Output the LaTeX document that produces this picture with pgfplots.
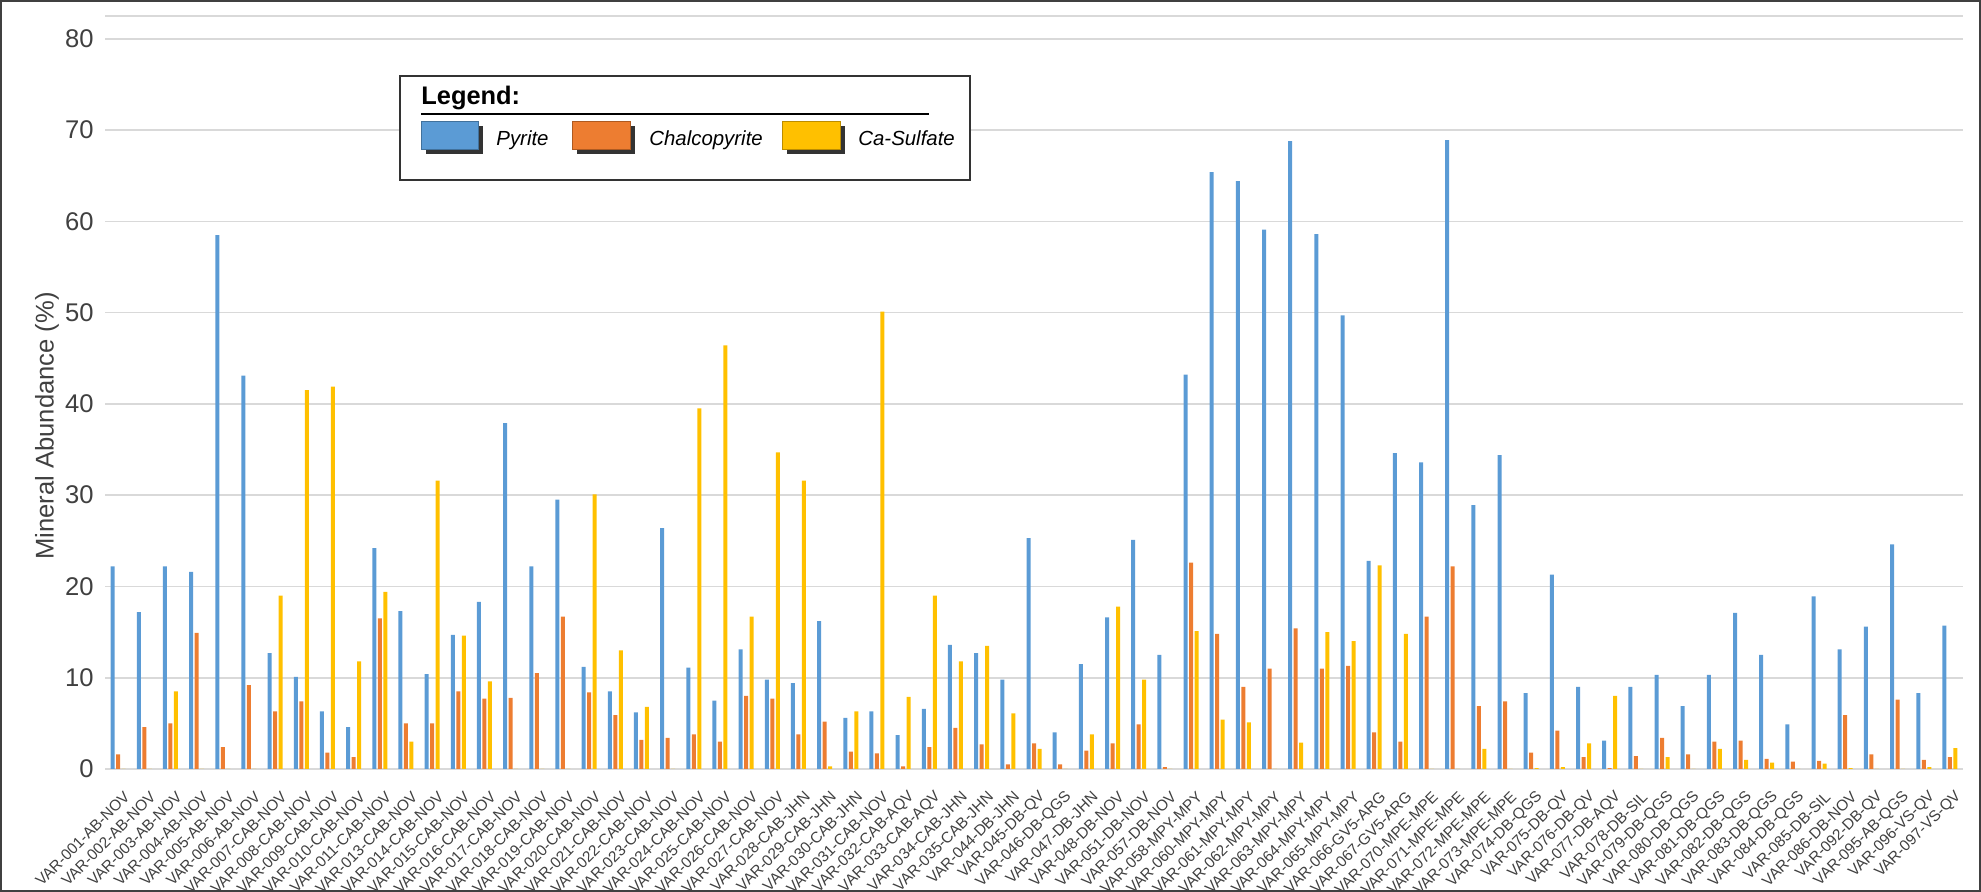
\documentclass[border=0pt]{standalone}
\usepackage{fontspec}
\setmainfont{Liberation Sans}
\usepackage{pgfplots}
\usepackage{pgfplotstable}
\pgfplotsset{compat=1.18}
\definecolor{pyb}{HTML}{5B9BD5}
\definecolor{cpo}{HTML}{ED7D31}
\definecolor{csy}{HTML}{FFC000}
\definecolor{pybd}{HTML}{41719C}
\definecolor{cpod}{HTML}{AE5A21}
\definecolor{csyd}{HTML}{BC8C00}
\definecolor{gridgray}{HTML}{D9D9D9}
\definecolor{txtgray}{HTML}{404040}

\pgfplotstableread{
idx name py cp cs
1 VAR-001-AB-NOV 22.2 1.6 0
2 VAR-002-AB-NOV 17.2 4.6 0
3 VAR-003-AB-NOV 22.2 5.0 8.5
4 VAR-004-AB-NOV 21.6 14.9 0
5 VAR-005-AB-NOV 58.5 2.4 0
6 VAR-006-AB-NOV 43.1 9.2 0
7 VAR-007-CAB-NOV 12.7 6.3 19.0
8 VAR-008-CAB-NOV 10.1 7.4 41.5
9 VAR-009-CAB-NOV 6.3 1.8 41.9
10 VAR-010-CAB-NOV 4.6 1.3 11.8
11 VAR-011-CAB-NOV 24.2 16.5 19.4
12 VAR-013-CAB-NOV 17.3 5.0 3.0
13 VAR-014-CAB-NOV 10.4 5.0 31.6
14 VAR-015-CAB-NOV 14.7 8.5 14.6
15 VAR-016-CAB-NOV 18.3 7.7 9.6
16 VAR-017-CAB-NOV 37.9 7.8 0
17 VAR-018-CAB-NOV 22.2 10.5 0
18 VAR-019-CAB-NOV 29.5 16.7 0
19 VAR-020-CAB-NOV 11.2 8.4 30.1
20 VAR-021-CAB-NOV 8.5 5.9 13.0
21 VAR-022-CAB-NOV 6.2 3.2 6.8
22 VAR-023-CAB-NOV 26.4 3.4 0
23 VAR-024-CAB-NOV 11.1 3.8 39.5
24 VAR-025-CAB-NOV 7.5 3.0 46.4
25 VAR-026-CAB-NOV 13.1 8.0 16.7
26 VAR-027-CAB-NOV 9.8 7.7 34.7
27 VAR-028-CAB-JHN 9.4 3.8 31.6
28 VAR-029-CAB-JHN 16.2 5.2 0.3
29 VAR-030-CAB-JHN 5.6 1.9 6.3
30 VAR-031-CAB-NOV 6.3 1.7 50.1
31 VAR-032-CAB-AQV 3.7 0.3 7.9
32 VAR-033-CAB-AQV 6.6 2.4 19.0
33 VAR-034-CAB-JHN 13.6 4.5 11.8
34 VAR-035-CAB-JHN 12.7 2.7 13.5
35 VAR-044-DB-JHN 9.8 0.5 6.1
36 VAR-045-DB-QV 25.3 2.8 2.2
37 VAR-046-DB-QGS 4.0 0.5 0
38 VAR-047-DB-JHN 11.5 2.0 3.8
39 VAR-048-DB-NOV 16.6 2.8 17.8
40 VAR-051-DB-NOV 25.1 4.9 9.8
41 VAR-057-DB-NOV 12.5 0.2 0
42 VAR-058-MPY-MPY 43.2 22.6 15.1
43 VAR-060-MPY-MPY 65.4 14.8 5.4
44 VAR-061-MPY-MPY 64.4 9.0 5.1
45 VAR-062-MPY-MPY 59.1 11.0 0
46 VAR-063-MPY-MPY 68.8 15.4 2.9
47 VAR-064-MPY-MPY 58.6 11.0 15.0
48 VAR-065-MPY-MPY 49.7 11.3 14.0
49 VAR-066-GV5-ARG 22.8 4.0 22.3
50 VAR-067-GV5-ARG 34.6 3.0 14.8
51 VAR-070-MPE-MPE 33.6 16.7 0
52 VAR-071-MPE-MPE 68.9 22.2 0
53 VAR-072-MPE-MPE 28.9 6.9 2.2
54 VAR-073-MPE-MPE 34.4 7.4 0
55 VAR-074-DB-QGS 8.3 1.8 0.1
56 VAR-075-DB-QV 21.3 4.2 0.2
57 VAR-076-DB-QV 9.0 1.3 2.8
58 VAR-077-DB-AQV 3.1 0.1 8.0
59 VAR-078-DB-SIL 9.0 1.4 0
60 VAR-079-DB-QGS 10.3 3.4 1.3
61 VAR-080-DB-QGS 6.9 1.6 0
62 VAR-081-DB-QGS 10.3 3.0 2.2
63 VAR-082-DB-QGS 17.1 3.1 1.0
64 VAR-083-DB-QGS 12.5 1.1 0.7
65 VAR-084-DB-QGS 4.9 0.8 0
66 VAR-085-DB-SIL 18.9 0.9 0.6
67 VAR-086-DB-NOV 13.1 5.9 0.1
68 VAR-092-DB-QV 15.6 1.6 0
69 VAR-095-AB-QGS 24.6 7.6 0
70 VAR-096-VS-QV 8.3 1.0 0.2
71 VAR-097-VS-QV 15.7 1.3 2.3
}\mydata

\begin{document}
\begin{tikzpicture}
\useasboundingbox (-52.5pt,-61.5pt) rectangle (938pt,384.5pt);
\begin{axis}[
  at={(0pt,0pt)}, anchor=south west,
  scale only axis, width=929pt, height=376.5pt,
  xmin=0.5, xmax=71.5, ymin=0, ymax=82.5,
  ytick={0,10,...,80},
  xtick={1,...,71},
  xticklabels from table={\mydata}{name},
  extra y ticks={82.5}, extra y tick labels={},
  ymajorgrids,
  grid style={line width=0.8pt, draw=gridgray},
  major tick length=0pt,
  axis line style={draw=none},
  /pgf/number format/assume math mode=true,
  ybar=0.75pt, bar width=2pt,
  yticklabel style={font=\fontsize{12.8}{14}\selectfont, text=txtgray, inner sep=0pt, anchor=east, xshift=-5.5pt},
  xticklabel style={font=\fontsize{7.7}{9}\selectfont, text=txtgray, anchor=east, inner sep=0pt, xshift=4.5pt, yshift=-12.5pt, rotate=45},
  ylabel={Mineral Abundance (\%)},
  ylabel style={font=\fontsize{12.8}{14}\selectfont, text=txtgray, at={(axis description cs:-0.0312,0.4555)}, anchor=center},
]
\addplot[fill=pyb, draw=none] table[x=idx, y=py]{\mydata};
\addplot[fill=cpo, draw=none] table[x=idx, y=cp]{\mydata};
\addplot[fill=csy, draw=none] table[x=idx, y=cs]{\mydata};
\end{axis}
% legend box
\draw[line width=0.8pt, draw=black!80, fill=white] (147.5pt,294.5pt) rectangle (432.5pt,346.5pt);
\node[anchor=base west, inner sep=0pt, font=\fontsize{12.7}{14}\selectfont\bfseries] at (158pt,332pt) {Legend:};
\draw[line width=1.2pt] (158pt,327.5pt) -- (412pt,327.5pt);
\fill[black!80] (160.5pt,307.3pt) rectangle (189pt,321.3pt);
\filldraw[fill=pyb, draw=pybd, line width=0.5pt] (158pt,309.5pt) rectangle (186.5pt,323.5pt);
\fill[black!80] (236pt,307.3pt) rectangle (265pt,321.3pt);
\filldraw[fill=cpo, draw=cpod, line width=0.5pt] (233.5pt,309.5pt) rectangle (262.5pt,323.5pt);
\fill[black!80] (341pt,307.3pt) rectangle (370pt,321.3pt);
\filldraw[fill=csy, draw=csyd, line width=0.5pt] (338.5pt,309.5pt) rectangle (367.5pt,323.5pt);
\node[anchor=base west, inner sep=0pt, font=\fontsize{10.2}{12}\selectfont\itshape] at (195.5pt,311.6pt) {Pyrite};
\node[anchor=base west, inner sep=0pt, font=\fontsize{10.2}{12}\selectfont\itshape] at (272pt,311.6pt) {Chalcopyrite};
\node[anchor=base west, inner sep=0pt, font=\fontsize{10.2}{12}\selectfont\itshape] at (376.5pt,311.6pt) {Ca-Sulfate};
% outer frame
\draw[line width=1pt, draw=black!75] (-52pt,-61pt) rectangle (937.5pt,384pt);
\end{tikzpicture}
\end{document}
